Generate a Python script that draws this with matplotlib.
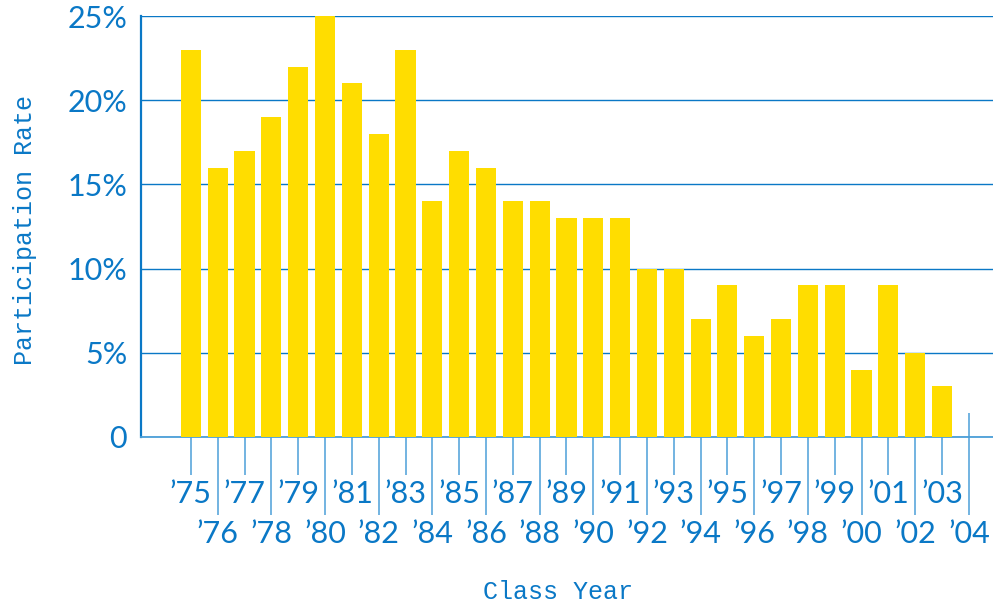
import matplotlib
matplotlib.use("Agg")
import matplotlib.pyplot as plt
import numpy as np

years = ["75", "76", "77", "78", "79", "80", "81", "82", "83", "84",
         "85", "86", "87", "88", "89", "90", "91", "92", "93", "94",
         "95", "96", "97", "98", "99", "00", "01", "02", "03", "04"]
rates = [23, 16, 17, 19, 22, 25, 21, 18, 23, 14,
         17, 16, 14, 14, 13, 13, 13, 10, 10, 7,
         9, 6, 7, 9, 9, 4, 9, 5, 3, 0]
yticks = [0, 5, 10, 15, 20, 25]
ytick_labels = ["0", "5%", "10%", "15%", "20%", "25%"]

BLUE = "#0A78C6"
LIGHT = "#4C9FD8"
YELLOW = "#FFDD00"

fig = plt.figure(figsize=(9.93, 6.04), dpi=100)
ax = fig.add_axes([141/993, 1-437/604, 852/993, 421/604])

x = np.arange(len(years))
vals = np.array(rates, dtype=float)
mask = vals > 0
ax.bar(x[mask], vals[mask], width=0.75, color=YELLOW, zorder=3)

ax.set_xlim(-1.86, len(years) - 0.1)
ax.set_ylim(0, 25)

# grid
ax.set_yticks(yticks)
ax.set_yticklabels(ytick_labels)
ax.yaxis.grid(True, color=BLUE, linewidth=1.0, zorder=1)
ax.tick_params(axis="y", length=0, pad=10, labelsize=22, labelcolor=BLUE)

for s in ["top", "right"]:
    ax.spines[s].set_visible(False)
ax.spines["left"].set_color(BLUE)
ax.spines["left"].set_linewidth(1.6)
ax.spines["bottom"].set_color(LIGHT)
ax.spines["bottom"].set_linewidth(1.3)

labels = ["\u2019" + y for y in years]
ax.set_xticks(x[0::2])
ax.set_xticklabels(labels[0::2])
ax.set_xticks(x[1::2], minor=True)
ax.set_xticklabels(labels[1::2], minor=True)
ax.tick_params(axis="x", which="major", length=27, width=1.1, color=LIGHT,
               pad=4, labelsize=22, labelcolor=BLUE)
ax.tick_params(axis="x", which="minor", length=56, width=1.1, color=LIGHT,
               pad=4, labelsize=22, labelcolor=BLUE)

# the final tick extends above the baseline
ax.vlines(x[-1], 0, 1.45, color=LIGHT, linewidth=1.1, zorder=2)

for lab in ax.get_xticklabels(which="both") + ax.get_yticklabels():
    lab.set_fontfamily("Lato")
    lab.set_fontweight("normal")

ax.set_xlabel("Class Year", fontfamily="Liberation Mono", fontsize=18, color=BLUE)
ax.set_ylabel("Participation Rate", fontfamily="Liberation Mono", fontsize=18, color=BLUE)
ax.xaxis.set_label_coords(0.489, -0.34)
ax.yaxis.set_label_coords(-0.122, 0.492)

fig.savefig("out.png", dpi=100)
